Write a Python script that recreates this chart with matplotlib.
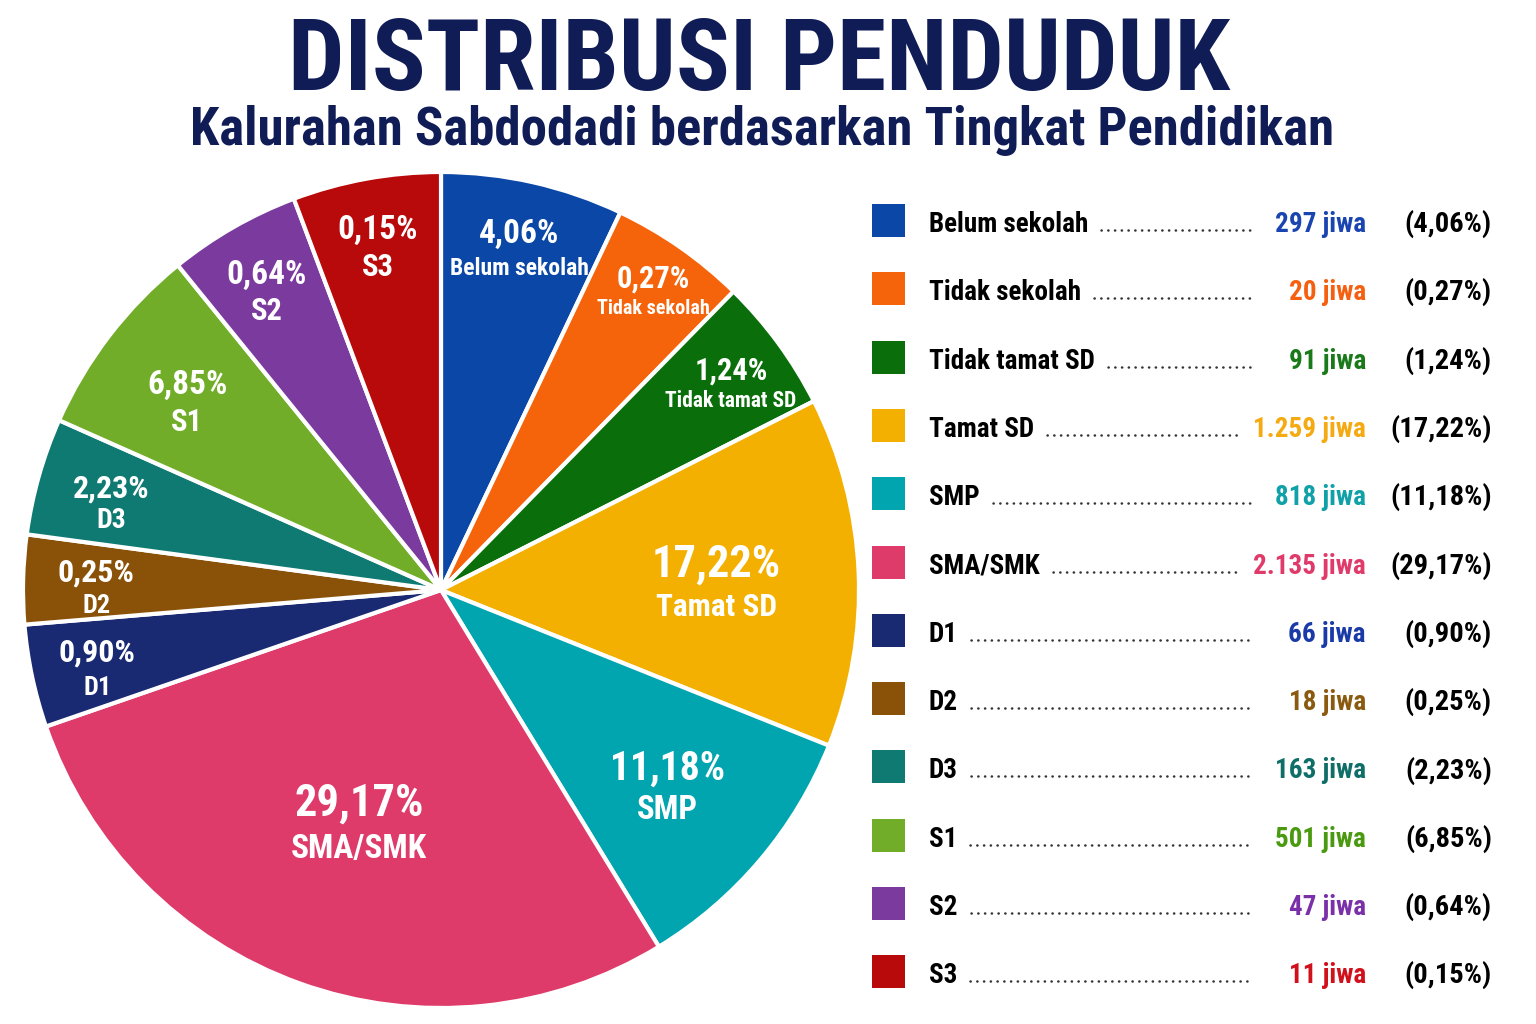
import os
import matplotlib
matplotlib.use('Agg')
import matplotlib.pyplot as plt
import numpy as np
from matplotlib import font_manager as fm
from matplotlib.patches import Rectangle
from matplotlib.lines import Line2D

# data
categories = ['Belum sekolah', 'Tidak sekolah', 'Tidak tamat SD', 'Tamat SD', 'SMP',
              'SMA/SMK', 'D1', 'D2', 'D3', 'S1', 'S2', 'S3']
jiwa = [297, 20, 91, 1259, 818, 2135, 66, 18, 163, 501, 47, 11]
persen = [4.06, 0.27, 1.24, 17.22, 11.18, 29.17, 0.90, 0.25, 2.23, 6.85, 0.64, 0.15]
# slice sizes as drawn in the picture (degrees), they do not follow the percentages
slice_deg = [25.4, 19.0, 18.7, 48.7, 36.7, 102.3, 14.3, 12.4, 16.3, 27.0, 18.4, 20.6]

colors = ['#0a47a6', '#f5640a', '#0a6e0a', '#f4b000', '#00a5b0', '#de3a6a',
          '#1a2a72', '#8a5208', '#0f7a72', '#72ad2a', '#7a3a9e', '#b80a0a']
value_colors = ['#1a44b0', '#f56010', '#1a7a1a', '#f4aa10', '#10a0a8', '#e03a6a',
                '#1a3aa8', '#8a5a10', '#106e68', '#4a9a10', '#7a30a8', '#d0101a']
navy = '#101c56'

# label style per slice: radius fraction, pct size, name size, gap (px)
lab_r = [0.85, 0.887, 0.86, 0.66, 0.71, 0.58, 0.84, 0.825, 0.82, 0.765, 0.84, 0.85]
pct_fs = [24, 22, 22, 32, 28.5, 32, 23, 23, 23, 24, 24, 24]
name_fs = [17, 14.5, 15.5, 22.5, 23.5, 24, 19, 19, 20, 22, 22, 22]
gap_px = [34, 30, 30, 43, 41, 45, 35, 33, 32, 38, 36, 37]


def find_font(keys):
    for key in keys:
        for f in fm.fontManager.ttflist:
            n = os.path.basename(f.fname).lower().replace('-', '').replace('_', '').replace(' ', '')
            if key in n:
                return f.fname
    return None


fpath = find_font(['robotocondensedbold.', 'liberationsansnarrowbold.', 'dejavusanscondensedbold.'])


def fp(size):
    if fpath:
        return fm.FontProperties(fname=fpath, size=size)
    return fm.FontProperties(family='DejaVu Sans', weight='bold', size=size)


W, H = 1536, 1024
fig = plt.figure(figsize=(W / 100, H / 100), dpi=100)
fig.patch.set_facecolor('white')


def px(x, y):
    return x / W, 1 - y / H


# pie
cx, cy, R = 441, 590, 418
ax = fig.add_axes([(cx - R) / W, (H - cy - R) / H, 2 * R / W, 2 * R / H])
wedges, _ = ax.pie(slice_deg, colors=colors, startangle=90, counterclock=False,
                   wedgeprops=dict(edgecolor='white', linewidth=3))
ax.set_xlim(-1, 1)
ax.set_ylim(-1, 1)
ax.set_aspect('equal')
ax.axis('off')

lab_dy = -8 / R  # labels sit a little below the geometric centre
for i, w in enumerate(wedges):
    mid = np.deg2rad((w.theta1 + w.theta2) / 2)
    x, y = lab_r[i] * np.cos(mid), lab_r[i] * np.sin(mid) + lab_dy
    g = gap_px[i] / 2 * 0.72
    pct = f'{persen[i]:.2f}'.replace('.', ',') + '%'
    ax.annotate(pct, (x, y), xytext=(0, g), textcoords='offset points', ha='center',
                va='center', color='white', fontproperties=fp(pct_fs[i]))
    ax.annotate(categories[i], (x, y), xytext=(0, -g), textcoords='offset points', ha='center',
                va='center', color='white', fontproperties=fp(name_fs[i]))

# titles
fig.text(*px(759, 90), 'DISTRIBUSI PENDUDUK', ha='center', va='baseline',
         color=navy, fontproperties=fp(72))
fig.text(*px(762, 145), 'Kalurahan Sabdodadi berdasarkan Tingkat Pendidikan', ha='center',
         va='baseline', color=navy, fontproperties=fp(38))

# legend
row0, step = 221, 68.3
labels, values = [], []
for i, cat in enumerate(categories):
    yc = row0 + step * i
    sx, sy = px(872, yc + 16)
    fig.add_artist(Rectangle((sx, sy), 33 / W, 33 / H, transform=fig.transFigure,
                             facecolor=colors[i], edgecolor='none'))
    base = yc + 11
    t = fig.text(*px(929, base), cat, ha='left', va='baseline', color='black', fontproperties=fp(19.5))
    cnt = f'{jiwa[i]:,}'.replace(',', '.') + ' jiwa'
    v = fig.text(*px(1366, base), cnt, ha='right', va='baseline', color=value_colors[i],
                 fontproperties=fp(19.5))
    pct = '(' + f'{persen[i]:.2f}'.replace('.', ',') + '%)'
    fig.text(*px(1492, base), pct, ha='right', va='baseline', color='black', fontproperties=fp(20.5))
    labels.append((t, base))
    values.append(v)

fig.canvas.draw()
r = fig.canvas.get_renderer()
for (t, base), v in zip(labels, values):
    x0 = t.get_window_extent(r).x1 + 13
    x1 = min(1253, v.get_window_extent(r).x0 - 16)
    yy = 1 - (base - 2) / H
    fig.add_artist(Line2D([x0 / W, x1 / W], [yy, yy], transform=fig.transFigure, color='#333333',
                          linewidth=1.8, linestyle=(0, (0.1, 2.6)), dash_capstyle='round'))

fig.savefig('out.png', dpi=100, facecolor='white')
